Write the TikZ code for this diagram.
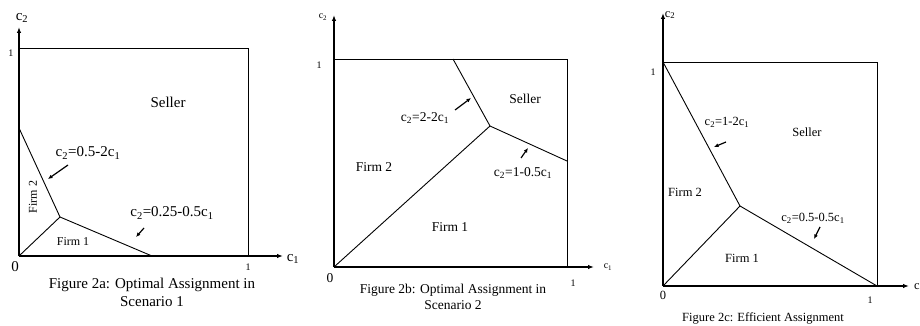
\documentclass[tikz,border=0pt]{standalone}
\usepackage{fontspec}
\setmainfont{Liberation Serif}
\usetikzlibrary{arrows.meta}
\tikzset{
  axisA/.style={line width=1.8pt,-{Latex[length=6pt,width=4.5pt]}},
  axisB/.style={line width=1.3pt,-{Latex[length=6pt,width=4.5pt]}},
  boxline/.style={line width=0.9pt},
  region/.style={line width=0.9pt},
  pointer/.style={line width=1.2pt,-{Latex[length=4.5pt,width=4pt]}},
  txt/.style={inner sep=0pt},
  fA/.style={txt,font=\fontsize{15}{18}\selectfont},
  fAs/.style={txt,font=\fontsize{12}{14}\selectfont},
  fB/.style={txt,font=\fontsize{13.5}{16}\selectfont},
  fC/.style={txt,font=\fontsize{12.5}{15}\selectfont},
  tick/.style={txt,font=\fontsize{10}{12}\selectfont},
}
\begin{document}
\begin{tikzpicture}[x=1pt,y=-1pt]
\useasboundingbox (0,0) rectangle (920,326);
% ---------------- Panel A ----------------
\coordinate (oA) at (19,256);
\coordinate (yA) at (19,27);
\coordinate (xA) at (283,256);
\coordinate (tlA) at (19,48);
\coordinate (trA) at (248,48);
\coordinate (brA) at (248,256);
\coordinate (a1) at (19,128);
\coordinate (a2) at (60,217);
\coordinate (a3) at (152,256);
\draw[boxline] (tlA) -- (trA) -- (brA);
\draw[region] (a1) -- (a2) -- (a3);
\draw[region] (oA) -- (a2);
\draw[axisA] (oA) -- (yA);
\draw[axisA] (oA) -- (xA);
\node[fA] (c2A) at (22,18) {c\textsubscript{2}};
\node[fA] (c1A) at (293,259) {c\textsubscript{1}};
\node[tick] (oneyA) at (11,53) {1};
\node[tick] (onexA) at (248,267) {1};
\node[fA] (zeroA) at (15,267) {0};
\node[fA] (sellA) at (168,102) {Seller};
\node[fAs,rotate=90] (f2A) at (33,197) {Firm 2};
\node[fAs] (f1A) at (73,242) {Firm 1};
\node[fA] (eqA1) at (88,153) {c\textsubscript{2}=0.5-2c\textsubscript{1}};
\coordinate (pA1s) at (68,165);
\coordinate (pA1e) at (48,179);
\draw[pointer] (pA1s) -- (pA1e);
\node[fA] (eqA2) at (172,213) {c\textsubscript{2}=0.25-0.5c\textsubscript{1}};
\coordinate (pA2s) at (144,228);
\coordinate (pA2e) at (136,237);
\draw[pointer] (pA2s) -- (pA2e);
\node[fA] (capA1) at (152,285) {Figure 2a: Optimal Assignment in};
\node[fA] (capA2) at (152,302) {Scenario 1};
% ---------------- Panel B ----------------
\coordinate (oB) at (334,267);
\coordinate (yB) at (334,15);
\coordinate (xB) at (594,267);
\coordinate (tlB) at (334,59);
\coordinate (trB) at (567,59);
\coordinate (brB) at (567,267);
\coordinate (b1) at (453,59);
\coordinate (b2) at (490,126);
\coordinate (b3) at (567,161);
\draw[boxline] (tlB) -- (trB) -- (brB);
\draw[region] (b1) -- (b2) -- (b3);
\draw[region] (oB) -- (b2);
\draw[axisB] (oB) -- (yB);
\draw[axisB] (oB) -- (xB);
\node[tick] (c2B) at (323,17) {c\textsubscript{2}};
\node[tick] (c1B) at (608,267) {c\textsubscript{1}};
\node[tick] (oneyB) at (319,65) {1};
\node[tick] (onexB) at (573,283) {1};
\node[fB] (zeroB) at (330,278) {0};
\node[fB] (sellB) at (525,99) {Seller};
\node[fB] (f2B) at (374,167) {Firm 2};
\node[fB] (f1B) at (450,227) {Firm 1};
\node[fB] (eqB1) at (425,118) {c\textsubscript{2}=2-2c\textsubscript{1}};
\coordinate (pB1s) at (455,110);
\coordinate (pB1e) at (471,98);
\draw[pointer] (pB1s) -- (pB1e);
\node[fB] (eqB2) at (523,173) {c\textsubscript{2}=1-0.5c\textsubscript{1}};
\coordinate (pB2s) at (521,158);
\coordinate (pB2e) at (528,148);
\draw[pointer] (pB2s) -- (pB2e);
\node[fB] (capB1) at (453,290) {Figure 2b: Optimal Assignment in};
\node[fB] (capB2) at (453,305) {Scenario 2};
% ---------------- Panel C ----------------
\coordinate (oC) at (663,286);
\coordinate (yC) at (663,13);
\coordinate (xC) at (909,286);
\coordinate (tlC) at (663,62);
\coordinate (trC) at (877,62);
\coordinate (brC) at (877,286);
\coordinate (cc1) at (663,62);
\coordinate (cc2) at (740,206);
\coordinate (cc3) at (877,286);
\draw[boxline] (tlC) -- (trC) -- (brC);
\draw[region] (cc1) -- (cc2) -- (cc3);
\draw[region] (oC) -- (cc2);
\draw[axisB] (oC) -- (yC);
\draw[axisB] (oC) -- (xC);
\node[fC] (c2C) at (670,15) {c\textsubscript{2}};
\node[fC,anchor=west] (c1C) at (914,287) {c\textsubscript{1}};
\node[tick] (oneyC) at (653,72) {1};
\node[tick] (onexC) at (870,300) {1};
\node[fC] (zeroC) at (663,295) {0};
\node[fC] (sellC) at (807,132) {Seller};
\node[fC] (f2C) at (685,192) {Firm 2};
\node[fC] (f1C) at (742,258) {Firm 1};
\node[fC] (eqC1) at (727,122) {c\textsubscript{2}=1-2c\textsubscript{1}};
\coordinate (pC1s) at (726,142);
\coordinate (pC1e) at (714,147);
\draw[pointer] (pC1s) -- (pC1e);
\node[fC] (eqC2) at (813,218) {c\textsubscript{2}=0.5-0.5c\textsubscript{1}};
\coordinate (pC2s) at (820,227);
\coordinate (pC2e) at (814,239);
\draw[pointer] (pC2s) -- (pC2e);
\node[fC] (capC) at (763,318) {Figure 2c: Efficient Assignment};
\end{tikzpicture}
\end{document}
